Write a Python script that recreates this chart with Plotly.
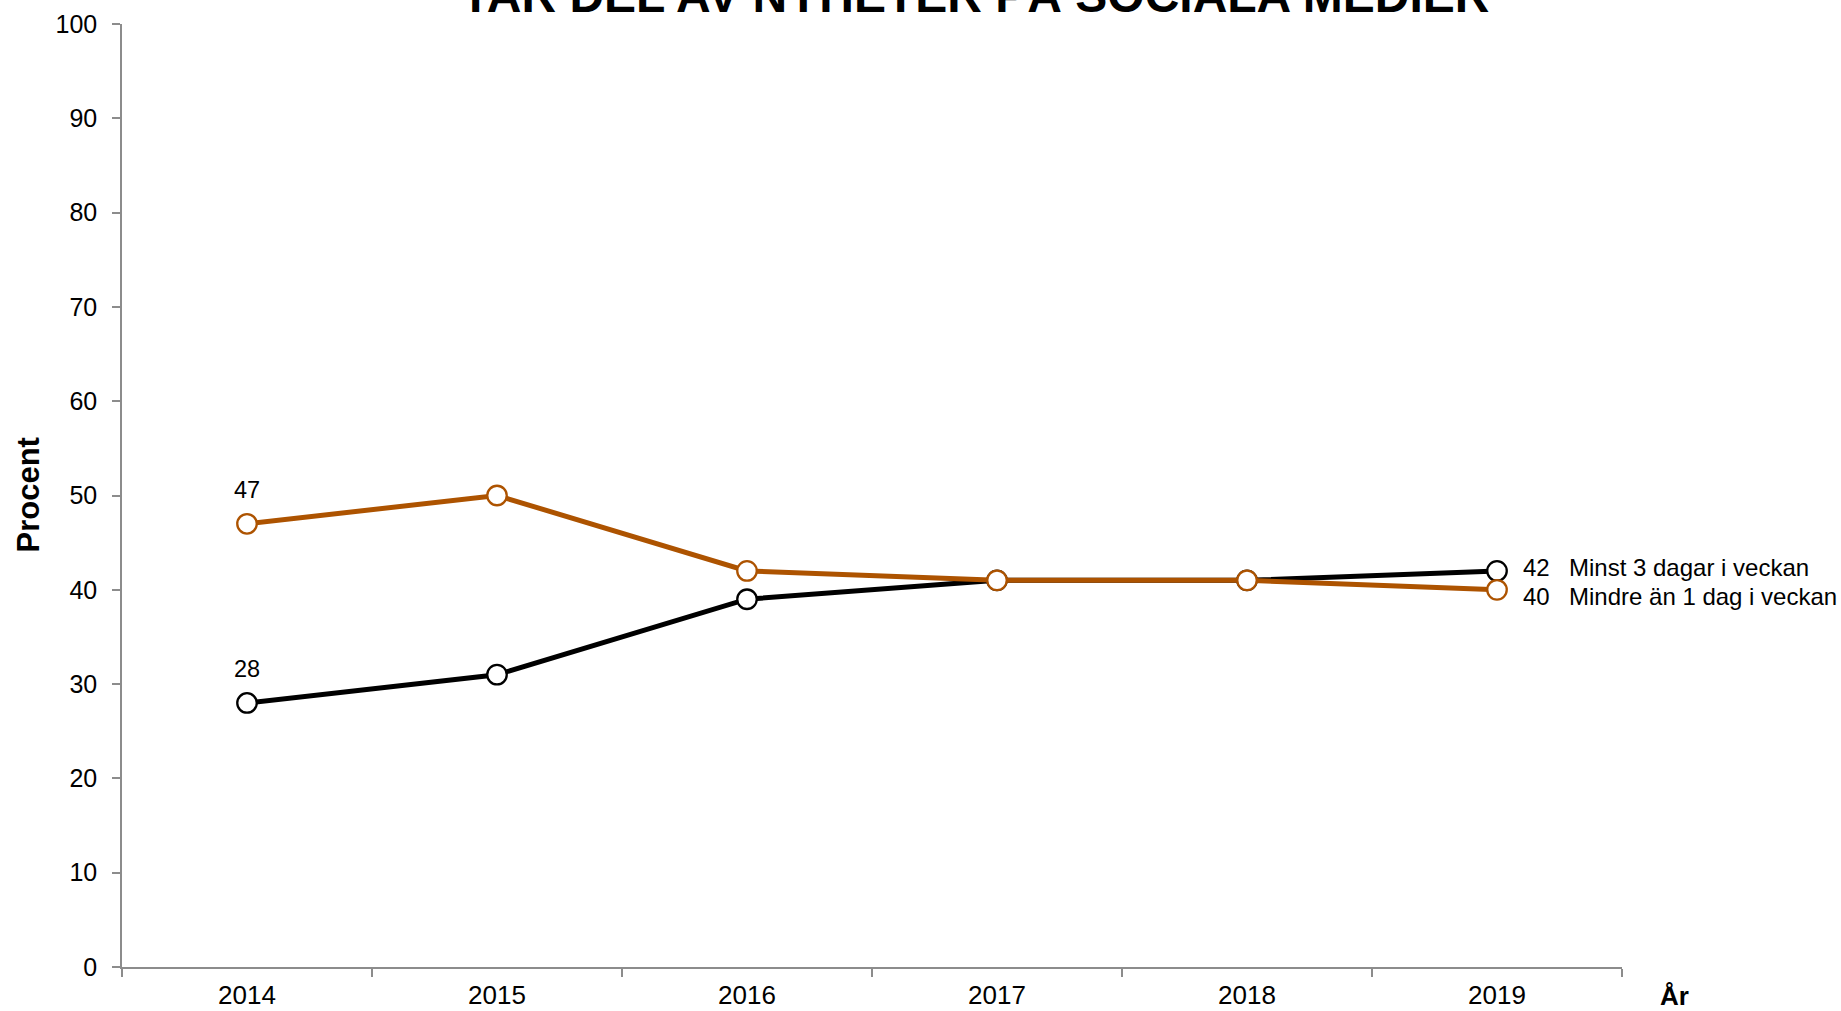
import plotly.graph_objects as go

years = ["2014", "2015", "2016", "2017", "2018", "2019"]
minst3 = [28, 31, 39, 41, 41, 42]
mindre1 = [47, 50, 42, 41, 41, 40]
series_names = ["Minst 3 dagar i veckan", "Mindre än 1 dag i veckan"]
title_text = "TAR DEL AV NYHETER PÅ SOCIALA MEDIER"
y_ticks = [0, 10, 20, 30, 40, 50, 60, 70, 80, 90, 100]

BLACK = "#000000"
ORANGE = "#AD5300"
AXIS = "#8c8c8c"
FONT = "Liberation Sans, Arial, sans-serif"

idx = list(range(len(years)))
last = idx[-1]

fig = go.Figure()
fig.add_trace(go.Scatter(
    x=idx, y=minst3, mode="lines+markers", name=series_names[0],
    line=dict(color=BLACK, width=5),
    marker=dict(size=19.5, color="white", line=dict(color=BLACK, width=2.3)),
))
fig.add_trace(go.Scatter(
    x=idx, y=mindre1, mode="lines+markers", name=series_names[1],
    line=dict(color=ORANGE, width=5),
    marker=dict(size=19.5, color="white", line=dict(color=ORANGE, width=2.3)),
))

# start labels
for vals in (mindre1, minst3):
    fig.add_annotation(x=idx[0], y=vals[0], text=str(vals[0]), showarrow=False,
                       yanchor="middle", yshift=34,
                       font=dict(size=23.5, color="black", family=FONT))

# end labels
for vals, name, ys in [(minst3, series_names[0], 3), (mindre1, series_names[1], -7)]:
    fig.add_annotation(x=last, y=vals[-1], text=str(vals[-1]), showarrow=False,
                       xanchor="left", yanchor="middle", xshift=24, yshift=ys,
                       font=dict(size=24, color="black", family=FONT))
    fig.add_annotation(x=last, y=vals[-1], text=name, showarrow=False,
                       xanchor="left", yanchor="middle", xshift=70, yshift=ys,
                       font=dict(size=24, color="black", family=FONT))

# title (clipped at top like the reference)
fig.add_annotation(xref="paper", yref="paper", x=0.569, y=1, yanchor="middle",
                   yshift=29, text="<b>" + title_text + "</b>", showarrow=False,
                   font=dict(size=48, color="black", family=FONT))

# axis titles
fig.add_annotation(xref="paper", yref="paper", x=1.035, y=0, yshift=-29,
                   xanchor="center", yanchor="middle",
                   text="<b>År</b>", showarrow=False,
                   font=dict(size=26, color="black", family=FONT))
fig.add_annotation(xref="paper", yref="paper", x=0, y=0.5, xshift=-94,
                   xanchor="center", yanchor="middle", textangle=-90,
                   text="<b>Procent</b>", showarrow=False,
                   font=dict(size=31, color="black", family=FONT))

fig.update_layout(
    width=1841, height=1011,
    margin=dict(l=122, r=219, t=24, b=44, autoexpand=False),
    paper_bgcolor="white", plot_bgcolor="white",
    showlegend=False,
    font=dict(family=FONT, color="black"),
    xaxis=dict(
        automargin=False,
        tickmode="array", tickvals=idx, ticktext=years,
        ticks="", showline=True, linecolor=AXIS, linewidth=1.5,
        showgrid=False, zeroline=False,
        tickfont=dict(size=26, color="black", family=FONT),
        ticklabelstandoff=4,
        range=[-0.5, len(years) - 0.5],
        minor=dict(tickmode="array", tickvals=[i - 0.5 for i in idx] + [last + 0.5],
                   ticks="outside", ticklen=8, tickcolor=AXIS, tickwidth=1.5,
                   showgrid=False),
    ),
    yaxis=dict(
        automargin=False,
        range=[0, 100], tickvals=y_ticks, ticks="outside", ticklen=8,
        tickcolor=AXIS, tickwidth=1.5,
        showline=True, linecolor=AXIS, linewidth=1.5,
        showgrid=False, zeroline=False,
        tickfont=dict(size=25, color="black", family=FONT),
        ticklabelstandoff=10,
    ),
)

fig.write_html("out.html", config={"displayModeBar": False},
               post_script="document.body.style.margin='0';")
